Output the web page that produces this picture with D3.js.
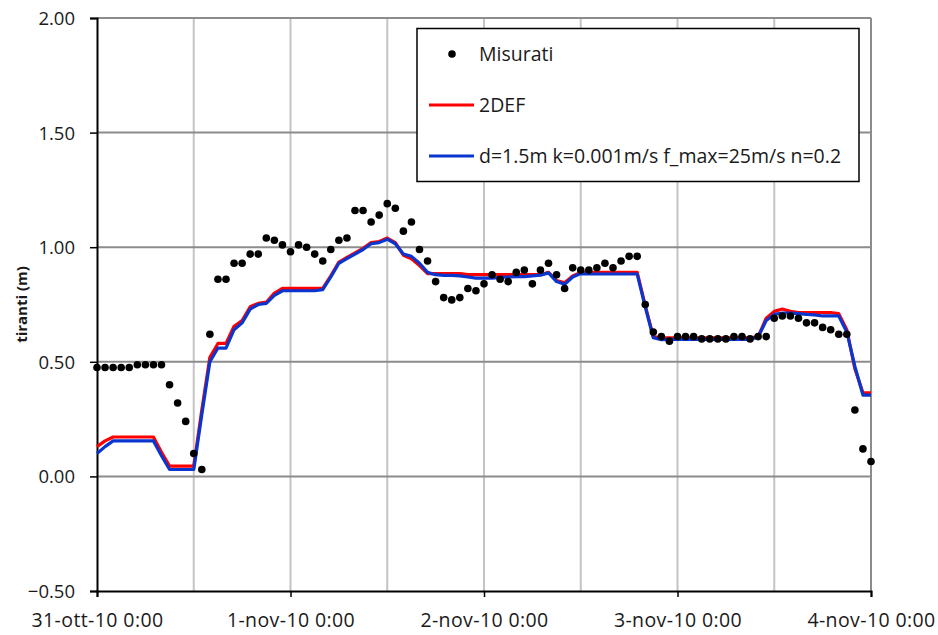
<!DOCTYPE html>
<html>
<head>
<meta charset="utf-8">
<script src="https://cdn.jsdelivr.net/npm/d3@7"></script>
<style>
  html, body { margin: 0; padding: 0; background: #fff; }
  svg { display: block; }
  text { font-family: "Open Sans", "DejaVu Sans", sans-serif; fill: #1a1a1a; }
</style>
</head>
<body>
<svg id="chart" width="938" height="635"></svg>
<script>
// ---------- DATA ----------
// hours elapsed since 31-ott-10 0:00 (hourly samples)
const hours = d3.range(0, 97);

// Misurati (measured water depth, m)
const measured = [
  0.475, 0.475, 0.475, 0.475, 0.475, 0.487, 0.487, 0.487, 0.487, 0.40,
  0.32, 0.24, 0.10, 0.03, 0.62, 0.86, 0.86, 0.93, 0.93, 0.97,
  0.97, 1.04, 1.03, 1.01, 0.98, 1.01, 1.00, 0.97, 0.94, 0.99,
  1.03, 1.04, 1.16, 1.16, 1.11, 1.14, 1.19, 1.17, 1.07, 1.11,
  0.99, 0.94, 0.85, 0.78, 0.77, 0.78, 0.82, 0.81, 0.84, 0.88,
  0.86, 0.85, 0.89, 0.90, 0.84, 0.90, 0.93, 0.88, 0.82, 0.91,
  0.90, 0.90, 0.91, 0.93, 0.91, 0.94, 0.96, 0.96, 0.75, 0.63,
  0.61, 0.59, 0.61, 0.61, 0.61, 0.60, 0.60, 0.60, 0.60, 0.61,
  0.61, 0.60, 0.61, 0.61, 0.69, 0.70, 0.70, 0.69, 0.67, 0.67,
  0.65, 0.64, 0.62, 0.62, 0.29, 0.12, 0.065
];

// 2DEF model
const model2DEF = [
  0.13, 0.155, 0.172, 0.172, 0.172, 0.172, 0.172, 0.172, 0.105, 0.045,
  0.045, 0.045, 0.045, 0.29, 0.52, 0.58, 0.58, 0.655, 0.68, 0.74,
  0.755, 0.76, 0.80, 0.82, 0.82, 0.82, 0.82, 0.82, 0.82, 0.875,
  0.935, 0.955, 0.975, 0.995, 1.02, 1.025, 1.04, 1.02, 0.965, 0.95,
  0.92, 0.885, 0.885, 0.885, 0.885, 0.885, 0.88, 0.88, 0.88, 0.88,
  0.88, 0.88, 0.88, 0.88, 0.88, 0.88, 0.89, 0.855, 0.845, 0.875,
  0.89, 0.89, 0.89, 0.89, 0.89, 0.89, 0.89, 0.89, 0.745, 0.61,
  0.605, 0.605, 0.605, 0.605, 0.605, 0.605, 0.605, 0.605, 0.605, 0.605,
  0.605, 0.605, 0.61, 0.69, 0.72, 0.73, 0.72, 0.715, 0.715, 0.715,
  0.715, 0.715, 0.71, 0.64, 0.47, 0.365, 0.365
];

// d=1.5m k=0.001m/s f_max=25m/s n=0.2 model
const modelD15 = [
  0.10, 0.13, 0.155, 0.155, 0.155, 0.155, 0.155, 0.155, 0.09, 0.03,
  0.03, 0.03, 0.03, 0.27, 0.50, 0.56, 0.56, 0.64, 0.67, 0.73,
  0.75, 0.755, 0.79, 0.81, 0.81, 0.81, 0.81, 0.81, 0.815, 0.87,
  0.93, 0.95, 0.97, 0.99, 1.015, 1.02, 1.035, 1.015, 0.97, 0.96,
  0.93, 0.89, 0.88, 0.877, 0.877, 0.875, 0.87, 0.865, 0.865, 0.865,
  0.868, 0.87, 0.872, 0.872, 0.875, 0.878, 0.888, 0.85, 0.838, 0.87,
  0.885, 0.883, 0.883, 0.883, 0.883, 0.883, 0.883, 0.883, 0.74, 0.605,
  0.597, 0.598, 0.598, 0.598, 0.598, 0.598, 0.598, 0.598, 0.598, 0.598,
  0.598, 0.598, 0.608, 0.68, 0.707, 0.713, 0.713, 0.71, 0.707, 0.705,
  0.70, 0.70, 0.70, 0.63, 0.48, 0.355, 0.355
];

const yTicks = [-0.5, 0, 0.5, 1.0, 1.5, 2.0];
const xTickLabels = ["31-ott-10 0:00", "1-nov-10 0:00", "2-nov-10 0:00", "3-nov-10 0:00", "4-nov-10 0:00"];
const seriesNames = ["Misurati", "2DEF", "d=1.5m k=0.001m/s f_max=25m/s n=0.2"];
const yTitle = "tiranti (m)";

// ---------- CHART ----------
const W = 938, H = 635;
const M = { left: 97, right: 67, top: 18, bottom: 44 };
const svg = d3.select("#chart");

const t0 = new Date(2010, 9, 31, 0, 0);
const toDate = h => new Date(t0.getTime() + h * 3600 * 1000);
const t1 = toDate(96);

const x = d3.scaleTime().domain([t0, t1]).range([M.left, W - M.right]);
const y = d3.scaleLinear().domain([-0.5, 2.0]).range([H - M.bottom, M.top]);

const dayTicks = d3.timeDay.range(t0, toDate(97));
const halfDayTicks = d3.timeHour.every(12).range(t0, toDate(97));

// vertical gridlines (light)
svg.append("g")
  .selectAll("line")
  .data(halfDayTicks.filter(d => +d !== +t0))
  .join("line")
  .attr("x1", d => x(d)).attr("x2", d => x(d))
  .attr("y1", y(2.0)).attr("y2", y(-0.5))
  .attr("stroke", d => (+d === +t1) ? "#8c8c8c" : "#c4c4c4")
  .attr("stroke-width", 2);

// horizontal gridlines (darker)
svg.append("g")
  .selectAll("line")
  .data(yTicks.filter(v => v > -0.5))
  .join("line")
  .attr("x1", x(t0)).attr("x2", x(t1))
  .attr("y1", d => y(d)).attr("y2", d => y(d))
  .attr("stroke", "#8c8c8c")
  .attr("stroke-width", 2);

// Y axis
const yAxis = d3.axisLeft(y).tickValues(yTicks).tickFormat(d3.format(".2f")).tickSize(7).tickPadding(15);
const gy = svg.append("g").attr("transform", `translate(${x(t0)},0)`).call(yAxis);
gy.select(".domain").attr("stroke", "#000").attr("stroke-width", 2);
gy.selectAll(".tick line").attr("stroke", "#000").attr("stroke-width", 1.5);
gy.selectAll(".tick text").style("font-size", "18.5px").attr("fill", "#1a1a1a").attr("dy", "0.35em");

// X axis
const xAxis = d3.axisBottom(x).tickValues(dayTicks).tickFormat((d, i) => xTickLabels[i]).tickSize(6).tickPadding(16);
const gx = svg.append("g").attr("transform", `translate(0,${y(-0.5)})`).call(xAxis);
gx.select(".domain").attr("stroke", "#000").attr("stroke-width", 2);
gx.selectAll(".tick line").attr("stroke", "#000").attr("stroke-width", 1.5);
gx.selectAll(".tick text").style("font-size", "19.5px").attr("fill", "#1a1a1a").style("letter-spacing", "0.4px");

// Y title
svg.append("text")
  .attr("transform", `translate(27,${(y(2.0) + y(-0.5)) / 2}) rotate(-90)`)
  .attr("text-anchor", "middle")
  .style("font-size", "15px")
  .style("font-weight", "bold")
  .text(yTitle);

// lines
const line = d3.line().x((d, i) => x(toDate(hours[i]))).y(d => y(d));
svg.append("path").datum(model2DEF)
  .attr("d", line).attr("fill", "none")
  .attr("stroke", "#ff0000").attr("stroke-width", 3.2).attr("stroke-linejoin", "round");
svg.append("path").datum(modelD15)
  .attr("d", line).attr("fill", "none")
  .attr("stroke", "#0a36d0").attr("stroke-width", 3.2).attr("stroke-linejoin", "round");

// measured points
svg.append("g").selectAll("circle")
  .data(measured)
  .join("circle")
  .attr("cx", (d, i) => x(toDate(hours[i])))
  .attr("cy", d => y(d))
  .attr("r", 3.8)
  .attr("fill", "#000");

// Legend
const lg = svg.append("g");
lg.append("rect")
  .attr("x", 417).attr("y", 28.5).attr("width", 442).attr("height", 153)
  .attr("fill", "#fff").attr("stroke", "#000").attr("stroke-width", 1.5);
const rows = [54, 105, 156];
lg.append("circle").attr("cx", 452).attr("cy", rows[0]).attr("r", 3.8).attr("fill", "#000");
lg.append("line").attr("x1", 429).attr("x2", 474).attr("y1", rows[1]).attr("y2", rows[1])
  .attr("stroke", "#ff0000").attr("stroke-width", 3.2);
lg.append("line").attr("x1", 429).attr("x2", 474).attr("y1", rows[2]).attr("y2", rows[2])
  .attr("stroke", "#0a36d0").attr("stroke-width", 3.2);
seriesNames.forEach((name, i) => {
  lg.append("text")
    .attr("x", 479).attr("y", rows[i]).attr("dy", "0.35em")
    .style("font-size", "19.5px")
    .text(name);
});
</script>
</body>
</html>
